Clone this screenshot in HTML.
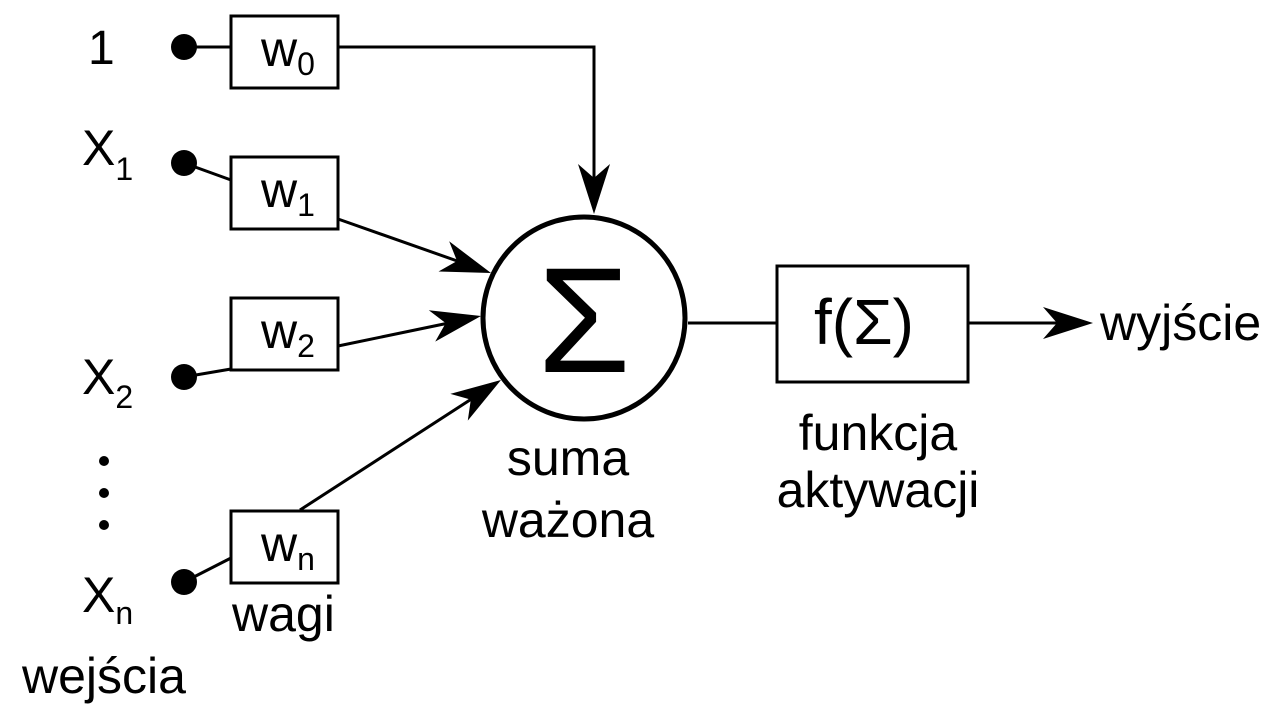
<!DOCTYPE html>
<html><head><meta charset="utf-8"><style>
html,body{margin:0;padding:0;background:#fff;}
svg{display:block;}
text{font-family:"Liberation Sans",Arial,sans-serif;fill:#000;}
</style></head><body>
<svg width="1281" height="719" viewBox="0 0 1281 719" xmlns="http://www.w3.org/2000/svg">
<defs>
<polygon id="ah" points="0,0 -50,-16 -36,0 -50,16" fill="#000"/>
</defs>
<g stroke="#000" stroke-width="3" fill="none">
<rect x="231" y="16" width="107" height="72"/>
<rect x="231" y="157" width="107" height="72"/>
<rect x="231" y="298" width="107" height="72"/>
<rect x="231" y="511" width="107" height="72"/>
<rect x="777" y="266" width="191" height="116"/>
<circle cx="584" cy="318" r="101" stroke-width="5"/>
<line x1="184" y1="47" x2="231" y2="47"/>
<polyline points="338,47 594,47 594,200"/>
<line x1="184" y1="163" x2="231" y2="180"/>
<line x1="184" y1="377" x2="231" y2="369"/>
<line x1="184" y1="582" x2="231" y2="558"/>
<line x1="338" y1="219" x2="480" y2="269"/>
<line x1="338" y1="346" x2="468" y2="319"/>
<line x1="300" y1="510" x2="490" y2="387"/>
<line x1="688" y1="323" x2="777" y2="323"/>
<line x1="968" y1="323" x2="1080" y2="323"/>
</g>
<use href="#ah" transform="translate(594,214) rotate(90)"/>
<use href="#ah" transform="translate(491,273) rotate(19.4)"/>
<use href="#ah" transform="translate(481,316) rotate(-11.5)"/>
<use href="#ah" transform="translate(501,380) rotate(-33)"/>
<use href="#ah" transform="translate(1093,323)"/>
<g fill="#000">
<circle cx="184" cy="47" r="13"/>
<circle cx="184" cy="163" r="13"/>
<circle cx="184" cy="377" r="13"/>
<circle cx="184" cy="582" r="13"/>
<circle cx="104" cy="461" r="5"/>
<circle cx="104" cy="493" r="5"/>
<circle cx="104" cy="525" r="5"/>
</g>
<text x="88" y="64" font-size="48">1</text>
<text x="82" y="165" font-size="50">X<tspan font-size="32" dy="15">1</tspan></text>
<text x="82" y="394" font-size="50">X<tspan font-size="32" dy="14">2</tspan></text>
<text x="82" y="612" font-size="50">X<tspan font-size="32" dy="12">n</tspan></text>
<text x="261" y="66" font-size="50">w<tspan font-size="32" dy="9">0</tspan></text>
<text x="261" y="207" font-size="50">w<tspan font-size="32" dy="9">1</tspan></text>
<text x="261" y="348" font-size="50">w<tspan font-size="32" dy="9">2</tspan></text>
<text x="261" y="561" font-size="50">w<tspan font-size="32" dy="9">n</tspan></text>
<text x="232" y="631" font-size="50">wagi</text>
<text x="22" y="693" font-size="50">wejścia</text>
<text x="584" y="372" font-size="150" text-anchor="middle">Σ</text>
<text x="568" y="475" font-size="50" text-anchor="middle">suma</text>
<text x="568" y="537" font-size="50" text-anchor="middle">ważona</text>
<text x="864" y="344" font-size="64" text-anchor="middle">f(Σ)</text>
<text x="878" y="450" font-size="50" text-anchor="middle">funkcja</text>
<text x="878" y="507" font-size="50" text-anchor="middle">aktywacji</text>
<text x="1100" y="340" font-size="50">wyjście</text>
</svg>
</body></html>
